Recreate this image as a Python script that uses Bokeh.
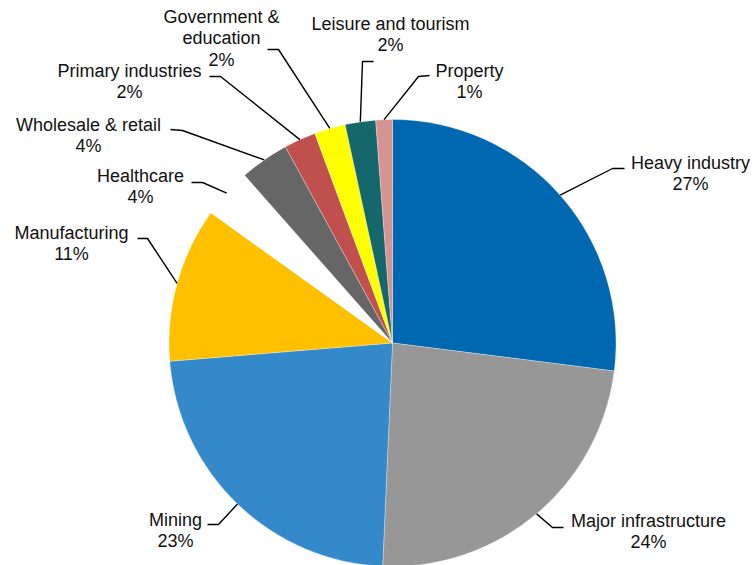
import math
from bokeh.plotting import figure
from bokeh.models import Range1d, ColumnDataSource
from bokeh.embed import file_html
from bokeh.resources import INLINE
from bokeh.core.properties import value

# ---- data ----
categories = ["Heavy industry", "Major infrastructure", "Mining", "Manufacturing",
              "Healthcare", "Wholesale & retail", "Primary industries",
              "Government &\neducation", "Leisure and tourism", "Property"]
shares = [27.0, 23.7, 23.0, 11.2, 3.6, 3.55, 2.3, 2.25, 2.2, 1.2]

# ---- style / layout ----
colors = ["#0067B1", "#979797", "#3389CA", "#FFC000", "#FFFFFF", "#666666",
          "#C0504D", "#FFFF00", "#15676B", "#D79392"]
W, H = 755, 565
CX, CY, R = 392, 342.5, 223.5          # pixel coords (y down)
label_pos = [(690, 162), (648, 520), (175, 519), (71, 232), (140, 175),
             (88, 124), (129, 70), (221, 16), (390, 23), (469, 70)]
leader_end = [(624, 168), (563, 527), (207, 524), (137, 238), (191, 182),
              (170, 129), (209, 76), (267, 49), (373, 61), (429, 75)]
elbow = [(612, 168), (552, 527), (218, 524), (147, 238), (202, 182),
         (182, 130), (220, 76), (278, 49), (362, 61), (418, 76)]
LINE_H = 21.5
FONT = "Liberation Sans"


def fy(py):
    return H - py


p = figure(width=W, height=H, output_backend="svg", toolbar_location=None,
           x_range=Range1d(0, W), y_range=Range1d(0, H),
           x_axis_location=None, y_axis_location=None, min_border=0)
p.outline_line_color = None
p.grid.visible = False
p.background_fill_color = "white"
p.border_fill_color = "white"

total = float(sum(shares))
starts, ends, mids = [], [], []
cum = 0.0
for s in shares:
    a0 = cum / total * 2 * math.pi
    cum += s
    a1 = cum / total * 2 * math.pi
    starts.append(math.pi / 2 - a1)
    ends.append(math.pi / 2 - a0)
    mids.append((a0 + a1) / 2)

src = ColumnDataSource(dict(start=starts, end=ends, color=colors))
p.wedge(x=CX, y=fy(CY), radius=R, start_angle="start", end_angle="end",
        fill_color="color", line_color="white", line_width=0.6, line_alpha=0.5,
        source=src)

# leader lines
xs, ys = [], []
for m, e, b in zip(mids, leader_end, elbow):
    sx = CX + R * math.sin(m)
    sy = CY - R * math.cos(m)
    xs.append([sx, b[0], e[0]])
    ys.append([fy(sy), fy(b[1]), fy(e[1])])
p.multi_line(xs=xs, ys=ys, line_color="black", line_width=1.4)

# labels
tx, ty, tt = [], [], []
for cat, s, (lx, ly) in zip(categories, shares, label_pos):
    pct = int(math.floor(s / total * 100 + 0.5))
    lines = cat.split("\n") + [f"{pct}%"]
    for i, ln in enumerate(lines):
        tx.append(lx)
        ty.append(fy(ly + i * LINE_H))
        tt.append(ln)
p.text(x=tx, y=ty, text=tt, text_font=value(FONT), text_font_size="18px",
       text_align="center", text_baseline="middle", text_color="#111111")

open("out.html", "w").write(file_html(p, INLINE))
